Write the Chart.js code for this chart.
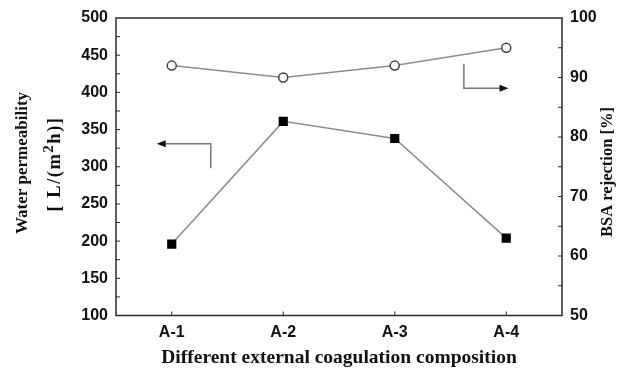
<!DOCTYPE html>
<html>
<head>
<meta charset="utf-8">
<script src="https://cdn.jsdelivr.net/npm/chart.js@4"></script>
<style>
    html, body { margin: 0; padding: 0; background: #fff; }
    canvas { display: block; }
</style>
</head>
<body>
<canvas id="myChart" width="631" height="371"></canvas>
<script>
// Dados
const categorias = ['A-1', 'A-2', 'A-3', 'A-4'];
const permeabilidade = [196, 361, 338, 204];   // eixo esquerdo, L/(m2h)
const rejeicaoBSA = [92, 90, 92, 95];          // eixo direito, %

// Setas de indicação (em unidades dos eixos): [x canto, y topo, y baixo, x ponta]
const setaEsq = [0.35, 331, 298, -0.135];
const setaDir = [2.62, 92.3, 88.2, 3.02];

const corEixo = '#2a2a2a';
const corLinha = '#8c8c8c';
const serifa = "'Liberation Serif', 'Times New Roman', serif";

function desenhaSeta(ctx, x1, y1, x2, y2) {
    const ang = Math.atan2(y2 - y1, x2 - x1);
    ctx.beginPath();
    ctx.moveTo(x2, y2);
    ctx.lineTo(x2 - 9 * Math.cos(ang) + 3.5 * Math.sin(ang), y2 - 9 * Math.sin(ang) - 3.5 * Math.cos(ang));
    ctx.lineTo(x2 - 9 * Math.cos(ang) - 3.5 * Math.sin(ang), y2 - 9 * Math.sin(ang) + 3.5 * Math.cos(ang));
    ctx.closePath();
    ctx.fill();
}

// Moldura, ticks para dentro e setas
const moldura = {
    id: 'moldura',
    afterDraw(chart) {
        const { ctx, chartArea: a, scales } = chart;
        ctx.save();
        ctx.strokeStyle = corEixo;
        ctx.fillStyle = corEixo;
        ctx.lineWidth = 1.5;
        ctx.strokeRect(a.left, a.top, a.right - a.left, a.bottom - a.top);

        ctx.lineWidth = 1;
        ctx.beginPath();
        for (let v = 125; v < 500; v += 25) {
            const y = scales.y.getPixelForValue(v);
            ctx.moveTo(a.left, y);
            ctx.lineTo(a.left + 4, y);
        }
        for (let v = 55; v < 100; v += 5) {
            const y = scales.y1.getPixelForValue(v);
            ctx.moveTo(a.right, y);
            ctx.lineTo(a.right - 4, y);
        }
        categorias.forEach((c, i) => {
            const x = scales.x.getPixelForValue(i);
            ctx.moveTo(x, a.bottom);
            ctx.lineTo(x, a.bottom - 4);
        });
        ctx.stroke();

        // seta para a esquerda
        ctx.strokeStyle = '#777';
        ctx.fillStyle = '#111';
        ctx.lineWidth = 1.5;
        let xc = scales.x.getPixelForValue(setaEsq[0]);
        let yt = scales.y.getPixelForValue(setaEsq[1]);
        let yb = scales.y.getPixelForValue(setaEsq[2]);
        let xp = scales.x.getPixelForValue(setaEsq[3]);
        ctx.beginPath();
        ctx.moveTo(xc, yb);
        ctx.lineTo(xc, yt);
        ctx.lineTo(xp + 6, yt);
        ctx.stroke();
        desenhaSeta(ctx, xc, yt, xp, yt);

        // seta para a direita
        xc = scales.x.getPixelForValue(setaDir[0]);
        yt = scales.y1.getPixelForValue(setaDir[1]);
        yb = scales.y1.getPixelForValue(setaDir[2]);
        xp = scales.x.getPixelForValue(setaDir[3]);
        ctx.beginPath();
        ctx.moveTo(xc, yt);
        ctx.lineTo(xc, yb);
        ctx.lineTo(xp - 6, yb);
        ctx.stroke();
        desenhaSeta(ctx, xc, yb, xp, yb);
        ctx.restore();
    }
};

// Títulos verticais (ambos lidos de baixo para cima, com expoente)
const titulosEixos = {
    id: 'titulosEixos',
    afterDraw(chart) {
        const { ctx } = chart;
        ctx.save();
        ctx.fillStyle = '#111';
        ctx.textBaseline = 'alphabetic';

        // eixo esquerdo, linha 1
        ctx.save();
        ctx.translate(27, 163);
        ctx.rotate(-Math.PI / 2);
        ctx.font = 'bold 17px ' + serifa;
        ctx.textAlign = 'center';
        ctx.fillText('Water permeability', 0, 0);
        ctx.restore();

        // eixo esquerdo, linha 2 com "2" sobrescrito
        ctx.save();
        ctx.translate(60, 164);
        ctx.rotate(-Math.PI / 2);
        ctx.letterSpacing = '1.5px';
        const p1 = '[ L/(m', p3 = 'h)]';
        ctx.font = 'bold 18.5px ' + serifa;
        const w1 = ctx.measureText(p1).width, w3 = ctx.measureText(p3).width;
        ctx.font = 'bold 15px ' + serifa;
        const w2 = ctx.measureText('2').width;
        let x = -(w1 + w2 + w3) / 2;
        ctx.textAlign = 'left';
        ctx.font = 'bold 18.5px ' + serifa;
        ctx.fillText(p1, x, 0);
        x += w1;
        ctx.font = 'bold 15px ' + serifa;
        ctx.fillText('2', x, -7);
        x += w2;
        ctx.font = 'bold 18.5px ' + serifa;
        ctx.fillText(p3, x, 0);
        ctx.restore();

        // eixo direito
        ctx.save();
        ctx.translate(612, 172);
        ctx.rotate(-Math.PI / 2);
        ctx.font = 'bold 16.5px ' + serifa;
        ctx.textAlign = 'center';
        ctx.fillText('BSA rejection [%]', 0, 0);
        ctx.restore();

        ctx.restore();
    }
};

const fundoBranco = {
    id: 'fundoBranco',
    beforeDraw(chart) {
        const { ctx } = chart;
        ctx.save();
        ctx.fillStyle = '#fff';
        ctx.fillRect(0, 0, chart.width, chart.height);
        ctx.restore();
    }
};

const fonteTick = { family: "'Liberation Sans', Arial, sans-serif", size: 16, weight: 'bold' };

const ctx = document.getElementById('myChart').getContext('2d');
const graph = new Chart(ctx, {
    type: 'line',
    data: {
        labels: categorias,
        datasets: [{
            label: 'Water permeability',
            data: permeabilidade,
            yAxisID: 'y',
            borderColor: corLinha,
            borderWidth: 1.5,
            pointStyle: 'rect',
            pointRadius: 6.5,
            pointBackgroundColor: '#000',
            pointBorderColor: '#000',
            pointBorderWidth: 0,
            tension: 0
        },
        {
            label: 'BSA rejection',
            data: rejeicaoBSA,
            yAxisID: 'y1',
            borderColor: corLinha,
            borderWidth: 1.5,
            pointStyle: 'circle',
            pointRadius: 4.5,
            pointBackgroundColor: '#fff',
            pointBorderColor: '#444',
            pointBorderWidth: 1.5,
            tension: 0
        }]
    },
    options: {
        responsive: false,
        animation: false,
        layout: { padding: { top: 18, left: 0, right: 0, bottom: 0 } },
        plugins: {
            legend: { display: false },
            tooltip: { enabled: false }
        },
        scales: {
            x: {
                offset: true,
                grid: { display: false, drawTicks: false },
                border: { display: false },
                ticks: { color: '#111', font: fonteTick, padding: 7 },
                title: {
                    display: true,
                    text: 'Different external coagulation composition',
                    color: '#111',
                    font: { family: serifa, size: 19.5, weight: 'bold', lineHeight: 1.2 },
                    padding: { top: 0, bottom: 1.5 }
                },
                afterFit: (s) => { s.height = 55.5; }
            },
            y: {
                position: 'left',
                min: 100,
                max: 500,
                grid: { display: false, drawTicks: false },
                border: { display: false },
                ticks: { stepSize: 50, color: '#111', font: fonteTick, padding: 8 },
                afterFit: (s) => { s.width = 116; }
            },
            y1: {
                position: 'right',
                min: 50,
                max: 100,
                grid: { display: false, drawTicks: false },
                border: { display: false },
                ticks: { stepSize: 10, color: '#111', font: fonteTick, padding: 8 },
                afterFit: (s) => { s.width = 69; }
            }
        }
    },
    plugins: [fundoBranco, moldura, titulosEixos]
});
</script>
</body>
</html>
